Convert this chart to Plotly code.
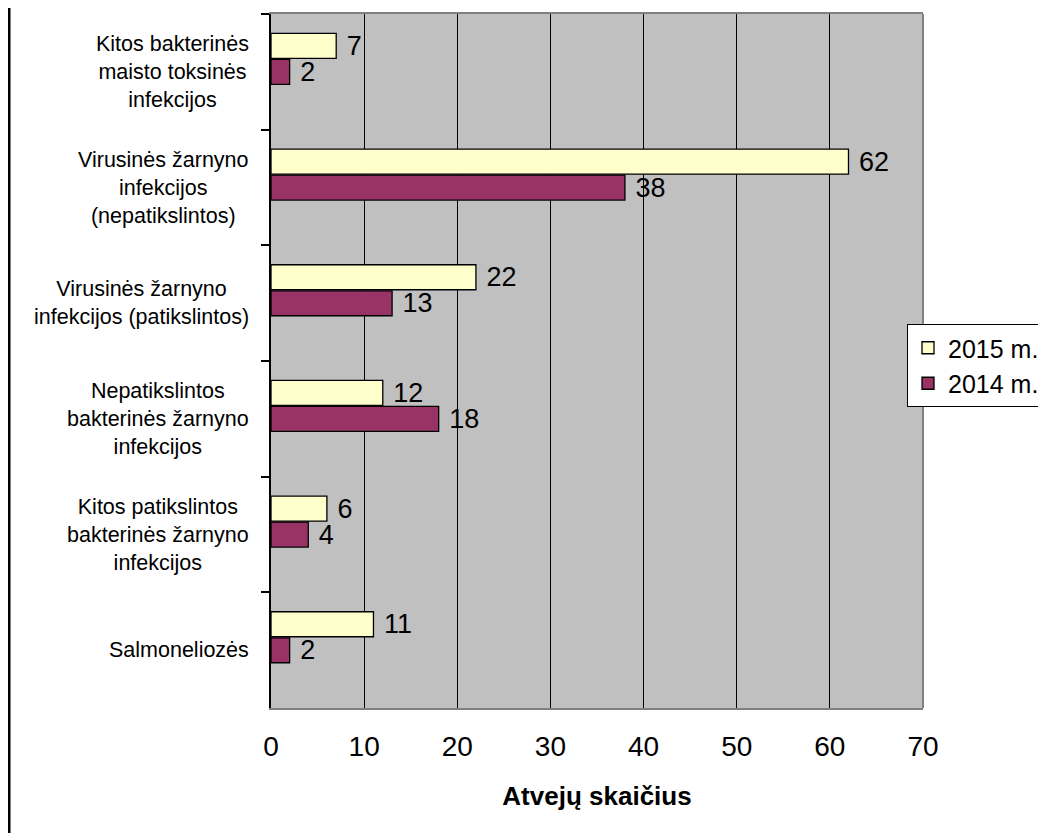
import plotly.graph_objects as go

categories = [
    "Kitos bakterinės<br>maisto toksinės<br>infekcijos",
    "Virusinės žarnyno<br>infekcijos<br>(nepatikslintos)",
    "Virusinės žarnyno<br>infekcijos (patikslintos)",
    "Nepatikslintos<br>bakterinės žarnyno<br>infekcijos",
    "Kitos patikslintos<br>bakterinės žarnyno<br>infekcijos",
    "Salmoneliozės",
]
cat_keys = ["c1", "c2", "c3", "c4", "c5", "c6"]
values_2015 = [7, 62, 22, 12, 6, 11]
values_2014 = [2, 38, 13, 18, 4, 2]
series_names = ["2015 m.", "2014 m."]
x_ticks = [0, 10, 20, 30, 40, 50, 60, 70]

FONT = "Liberation Sans, Arial, sans-serif"
OFF = 8  # default page body margin
W, H = 1046 - OFF, 833 - OFF
L, R, T, B = 271 - OFF, 1046 - 923, 14 - OFF, 833 - 708
PW, PH = W - L - R, H - T - B

fig = go.Figure()
fig.add_trace(go.Bar(
    y=cat_keys, x=values_2015, orientation="h", name=series_names[0],
    marker=dict(color="#FFFFCC", line=dict(color="black", width=1.3)),
    width=0.216, offset=-0.332,
    text=values_2015, texttemplate="\u00a0%{text}", textposition="outside",
    constraintext="none",
    textfont=dict(family=FONT, size=27, color="black"), cliponaxis=False,
))
fig.add_trace(go.Bar(
    y=cat_keys, x=values_2014, orientation="h", name=series_names[1],
    marker=dict(color="#993366", line=dict(color="black", width=1.3)),
    width=0.216, offset=-0.107,
    text=values_2014, texttemplate="\u00a0%{text}", textposition="outside",
    constraintext="none",
    textfont=dict(family=FONT, size=27, color="black"), cliponaxis=False,
))

annotations = []
for key, label in zip(cat_keys, categories):
    annotations.append(dict(
        x=-0.031, xref="paper", y=key, yref="y", text=label, showarrow=False,
        xanchor="right", yanchor="middle", align="center",
        font=dict(family=FONT, size=21.5, color="black"),
    ))

frame_x = (9 - OFF - L) / PW
shapes = [
    dict(type="line", xref="paper", yref="paper", x0=1, x1=1, y0=0, y1=1,
         line=dict(color="#808080", width=2), layer="above"),
    dict(type="line", xref="paper", yref="paper",
         x0=frame_x, x1=frame_x,
         y0=-(B + 20) / PH, y1=1 + (T + 20) / PH,
         line=dict(color="black", width=3), layer="above"),
]

fig.update_layout(
    width=W, height=H,
    margin=dict(l=L, r=R, t=T, b=B, autoexpand=False),
    paper_bgcolor="white", plot_bgcolor="#C0C0C0",
    barmode="overlay",
    font=dict(family=FONT, color="black"),
    showlegend=True,
    legend=dict(
        x=(907 - OFF - L) / PW, xanchor="left",
        y=1 - (324 - 14) / PH, yanchor="top",
        bgcolor="white", bordercolor="black", borderwidth=1,
        font=dict(family=FONT, size=25, color="black"),
        traceorder="normal", entrywidth=150, entrywidthmode="pixels",
    ),
    xaxis=dict(
        range=[0, 70], tickvals=x_ticks, ticktext=[str(v) for v in x_ticks],
        showgrid=True, gridcolor="black", gridwidth=1,
        zeroline=False, showline=True, linecolor="#808080", linewidth=2, mirror=True,
        ticks="", ticklabelstandoff=12,
        tickfont=dict(family=FONT, size=28, color="black"),
        title=dict(text="<b>Atvejų skaičius</b>", standoff=26,
                   font=dict(family=FONT, size=26, color="black")),
    ),
    yaxis=dict(
        type="category", categoryorder="array", categoryarray=cat_keys,
        autorange="reversed", showticklabels=False,
        showgrid=False, zeroline=False,
        showline=True, linecolor="black", linewidth=1.5,
        ticks="outside", tickson="boundaries", ticklen=8, tickcolor="black", tickwidth=1.5,
    ),
    annotations=annotations,
    shapes=shapes,
)

fig.write_html("out.html")
